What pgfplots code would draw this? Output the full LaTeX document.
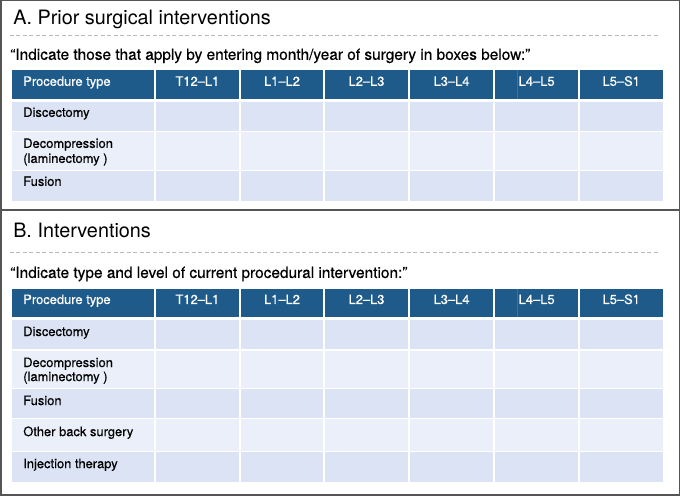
\documentclass[border=0pt]{standalone}
\usepackage{pgfplots}
\pgfplotsset{compat=1.18}
\usepackage{fontspec}
\setmainfont{TeX Gyre Heros}
\newfontfamily\medfont{TeX Gyre Heros}[FakeBold=0.45]
\definecolor{hdr}{HTML}{1F5B8A}
\definecolor{hdrline}{HTML}{3A73A0}
\definecolor{rowA}{HTML}{DCE3F4}
\definecolor{rowB}{HTML}{EAEFF9}
\definecolor{frame}{HTML}{555555}
\definecolor{txt}{HTML}{1A1A1A}
\begin{document}
\begin{tikzpicture}
\begin{axis}[width=680bp,height=496bp,scale only axis,
  xmin=0,xmax=680,ymin=0,ymax=496,y dir=reverse,
  axis lines=none,clip=false,
  every node/.append style={inner sep=0pt,outer sep=0pt,text=txt}]
% ---------- frames
\draw[frame,line width=1.5bp] (1,1) rectangle (679,495);
\draw[frame,line width=1.5bp] (1,210) -- (679,210);
% ---------- Panel A
\node[anchor=base west,font=\fontsize{19.8bp}{23bp}\selectfont] at (10,25) {A. Prior surgical interventions};
\draw[gray!55,line width=0.8bp,dash pattern=on 4bp off 2.5bp] (10,36) -- (658,36);
\node[anchor=base west,font=\medfont\fontsize{15.4bp}{17bp}\selectfont] at (7,60) {“Indicate those that apply by entering month/year of surgery in boxes below:”};
\fill[hdr] (12,70) rectangle (663,99);
\fill[rowA] (12,102) rectangle (663,131);
\fill[rowB] (12,132) rectangle (663,170);
\fill[rowA] (12,171) rectangle (663,201);
\draw[hdrline,line width=0.8bp] (517,70) -- (517,99);
\pgfplotsinvokeforeach{155,240,324,409,494,579}{\draw[white,line width=1.5bp] (#1,70) -- (#1,201);}
\begin{scope}[every node/.append style={font=\medfont\fontsize{12.9bp}{14bp}\selectfont}]
\node[anchor=base west,text=white] at (20,86) {Procedure type};
\node[anchor=base,text=white] at (197.5,86) {T12–L1};
\node[anchor=base,text=white] at (282,86) {L1–L2};
\node[anchor=base,text=white] at (366.5,86) {L2–L3};
\node[anchor=base,text=white] at (451.5,86) {L3–L4};
\node[anchor=base,text=white] at (536.5,86) {L4–L5};
\node[anchor=base,text=white] at (621,86) {L5–S1};
\node[anchor=base west] at (20,117) {Discectomy};
\node[anchor=base west] at (20,148) {Decompression};
\node[anchor=base west] at (20,163) {(laminectomy )};
\node[anchor=base west] at (20,186) {Fusion};
\end{scope}
% ---------- Panel B
\node[anchor=base west,font=\fontsize{19.8bp}{23bp}\selectfont] at (10,238) {B. Interventions};
\draw[gray!55,line width=0.8bp,dash pattern=on 4bp off 2.5bp] (10,252) -- (658,252);
\node[anchor=base west,font=\medfont\fontsize{15.4bp}{17bp}\selectfont] at (7,278) {“Indicate type and level of current procedural intervention:”};
\fill[hdr] (12,289) rectangle (663,317);
\fill[rowA] (12,320) rectangle (663,349);
\fill[rowB] (12,351) rectangle (663,388);
\fill[rowA] (12,389) rectangle (663,418);
\fill[rowB] (12,419) rectangle (663,451);
\fill[rowA] (12,452) rectangle (663,482);
\draw[white,line width=1.2bp] (12,350) -- (663,350);
\draw[white,line width=1.2bp] (12,388.5) -- (663,388.5);
\draw[white,line width=1.2bp] (12,418.5) -- (663,418.5);
\draw[white,line width=1.2bp] (12,451.5) -- (663,451.5);
\draw[hdrline,line width=0.8bp] (517,289) -- (517,317);
\pgfplotsinvokeforeach{155,240,324,409,494,579}{\draw[white,line width=1.5bp] (#1,289) -- (#1,482);}
\begin{scope}[every node/.append style={font=\medfont\fontsize{12.9bp}{14bp}\selectfont}]
\node[anchor=base west,text=white] at (20,304) {Procedure type};
\node[anchor=base,text=white] at (197.5,304) {T12–L1};
\node[anchor=base,text=white] at (282,304) {L1–L2};
\node[anchor=base,text=white] at (366.5,304) {L2–L3};
\node[anchor=base,text=white] at (451.5,304) {L3–L4};
\node[anchor=base,text=white] at (536.5,304) {L4–L5};
\node[anchor=base,text=white] at (621,304) {L5–S1};
\node[anchor=base west] at (20,336) {Discectomy};
\node[anchor=base west] at (20,367) {Decompression};
\node[anchor=base west] at (20,381) {(laminectomy )};
\node[anchor=base west] at (20,405) {Fusion};
\node[anchor=base west] at (20,436) {Other back surgery};
\node[anchor=base west] at (20,468) {Injection therapy};
\end{scope}
\end{axis}
\end{tikzpicture}
\end{document}
